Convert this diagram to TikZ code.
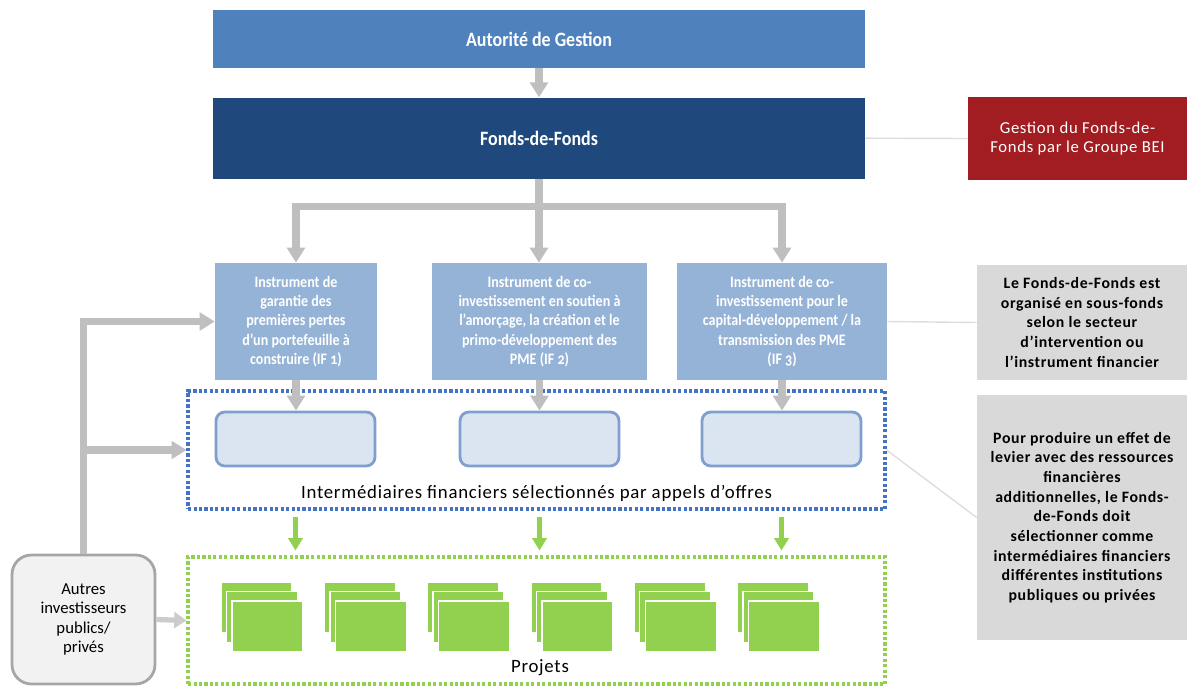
\documentclass[tikz,border=0pt]{standalone}
\usepackage{fontspec}
\setmainfont{Carlito}[Numbers=OldStyle]
\newfontfamily\condfont{Carlito}[FakeStretch=0.88,Numbers=OldStyle]
\newfontfamily\spacedfont{Carlito}[LetterSpace=4]
\usepackage{xcolor}
\usepackage{tikz}
\usetikzlibrary{positioning, arrows.meta}

\definecolor{agblue}{HTML}{4F81BD}
\definecolor{fdfblue}{HTML}{1F497D}
\definecolor{ifblue}{HTML}{95B3D7}
\definecolor{fifill}{HTML}{DBE5F1}
\definecolor{fidraw}{HTML}{7F9FD0}
\definecolor{dotblue}{HTML}{4472C4}
\definecolor{projgreen}{HTML}{92D050}
\definecolor{arrowgray}{HTML}{BFBFBF}
\definecolor{linkgray}{HTML}{DDDDDD}
\definecolor{notegray}{HTML}{D9D9D9}
\definecolor{beired}{HTML}{A11D21}

\begin{document}
\begin{tikzpicture}[x=0.02cm, y=-0.02cm,
  topbox/.style={text=white, minimum width=13.04cm, font=\condfont\bfseries\fontsize{11.6}{13}\selectfont},
  instr/.style={fill=ifblue, text=white, align=center, minimum height=2.34cm, inner sep=1pt, font=\condfont\bfseries\fontsize{9.1}{10.9}\selectfont},
  inter/.style={draw=fidraw, fill=fifill, line width=1.6pt, rounded corners=5pt, minimum width=3.18cm, minimum height=1.08cm},
  frame/.style={dash pattern=on 1.8pt off 1.3pt, line width=1.8pt, minimum width=13.94cm},
  note/.style={fill=notegray, align=center, minimum width=4.2cm, font=\spacedfont\bfseries\fontsize{9}{11.2}\selectfont},
  arrow/.style={draw=arrowgray, line width=4pt, -{Triangle[width=10pt,length=8.5pt]}},
  garrow/.style={draw=projgreen, line width=2.8pt, -{Triangle[width=8pt,length=7pt]}},
  link/.style={draw=linkgray, line width=0.8pt},
  proj/.style={fill=projgreen, draw=white, line width=0.8pt}
]
\useasboundingbox (0,0) rectangle (1187,686);

% Top
\node[topbox, fill=agblue, minimum height=1.16cm] (ag) at (539,39) {Autorité de Gestion};
\node[topbox, fill=fdfblue, minimum height=1.62cm, below=0.58cm of ag] (fdf) {Fonds-de-Fonds};
\coordinate[below=0.54cm of fdf] (br);

% Instruments
\node[instr, minimum width=3.24cm] (if1) at (296,321.5) {Instrument de\\garantie des\\premières pertes\\d’un portefeuille à\\construire (IF 1)};
\node[instr, minimum width=4.3cm] (if2) at (539.5,321.5) {Instrument de co-\\investissement en soutien à\\l’amorçage, la création et le\\primo-développement des\\PME (IF 2)};
\node[instr, minimum width=4.2cm] (if3) at (782,321.5) {Instrument de co-\\investissement pour le\\capital-développement / la\\transmission des PME\\(IF 3)};

% Intermediaires
\node[frame, draw=dotblue, minimum height=2.36cm] (fib) at (536.5,450) {};
\node[inter] (fi1) at (295.5,439) {};
\node[inter] (fi2) at (539.5,439) {};
\node[inter] (fi3) at (781.5,439) {};
\node[font=\spacedfont\fontsize{10.7}{12}\selectfont] (fitxt) at (536.5,493) {Intermédiaires financiers sélectionnés par appels d’offres};

% Projets
\node[frame, draw=projgreen, minimum height=2.54cm] (proj) at (536.5,620.5) {};
\foreach \i in {0,...,5}
  \foreach \k in {0,1,2}
    \filldraw[proj] ({221+103.3*\i+5.5*\k},{582+9.5*\k}) rectangle ++(71,51);
\node[font=\spacedfont\fontsize{10.7}{12}\selectfont] (projtxt) at (540,668) {Projets};

% Autres investisseurs
\node[draw=black!35, fill=black!5, line width=1.6pt, rounded corners=11pt, minimum width=2.86cm, minimum height=2.58cm, align=center, font=\fontsize{9.5}{11}\selectfont] (oth) at (83.5,619.5) {Autres\\investisseurs\\publics/\\privés};

% Notes
\node[fill=beired, text=white, align=center, minimum width=4.38cm, minimum height=1.66cm, font=\spacedfont\fontsize{9.5}{11.3}\selectfont] (bei) at (1077.5,138.5) {Gestion du Fonds-de-\\Fonds par le Groupe BEI};
\node[note, minimum height=2.3cm] (n1) at (1082,322.5) {Le Fonds-de-Fonds est\\organisé en sous-fonds\\selon le secteur\\d’intervention ou\\l’instrument financier};
\node[note, minimum height=4.9cm] (n2) at (1082,517.5) {Pour produire un effet de\\levier avec des ressources\\financières\\additionnelles, le Fonds-\\de-Fonds doit\\sélectionner comme\\intermédiaires financiers\\différentes institutions\\publiques ou privées};

% Arrows
\draw[arrow] (ag) -- (fdf);
\draw[arrow, -] (fdf.south) -- (br);
\draw[arrow] (br) -| (if1.north);
\draw[arrow] (fdf.south) -- (fdf.south |- if2.north);
\draw[arrow] (br) -| (if3.north);
\draw[arrow] (if1.south) -- (if1.south |- fi1.north);
\draw[arrow] (if2.south) -- (if2.south |- fi2.north);
\draw[arrow] (if3.south) -- (if3.south |- fi3.north);
\draw[arrow] (oth.north) |- (if1.west);
\draw[arrow] (oth.north) |- (fib.west);
\draw[arrow, draw=black!20, line width=3pt, -{Triangle[width=9pt,length=7pt]}] (oth.east) -- (proj.west);
\foreach \b in {fi1,fi2,fi3}
  \draw[garrow, shorten <=3.4pt, shorten >=2.8pt] (fib.south -| \b) -- (proj.north -| \b);

% Links
\draw[link] (fdf.east) -- (bei.west);
\draw[link] (if3.east) -- (n1.west);
\draw[link] (fib.east) -- (n2.west);
\end{tikzpicture}
\end{document}
